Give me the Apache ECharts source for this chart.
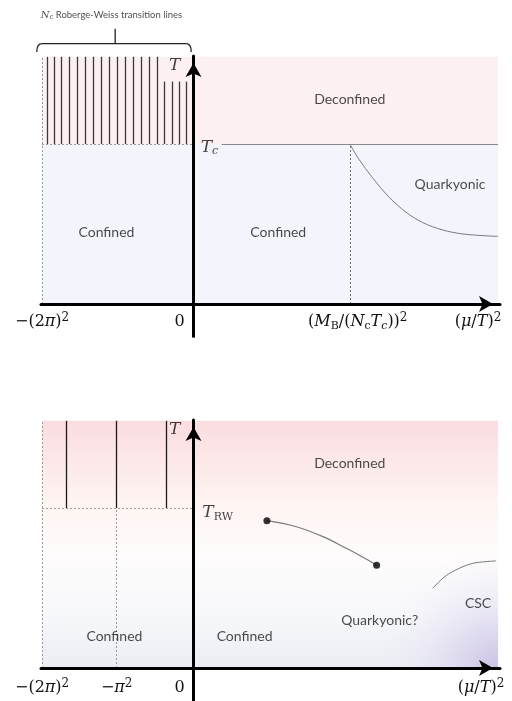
<!DOCTYPE html>
<html>
<head>
<meta charset="utf-8">
<script src="https://cdn.jsdelivr.net/npm/echarts@6/dist/echarts.min.js"></script>
<style>
  html, body { margin: 0; padding: 0; background: #fff; }
  #chart { width: 512px; height: 701px; }
</style>
</head>
<body>
<div id="chart"></div>
<script>
// Schematic QCD phase diagrams in the (mu/T)^2 - T plane.
// x: (mu/T)^2 in schematic units where -(2pi)^2 -> -4, -pi^2 -> -2 ; y: T in units of T_c (or T_RW)

// ---- axis ticks ----
const topTickValues = [-4, 0, 4.13, 8.1];
const topTickLabels = [
  '{n|−(2}{i|π}{n|)}{sup|2}',
  '{n|0}',
  '{n|(}{i|M}{sub|B}{n|/(}{i|N}{sub|c}{i|T}{subi|c}{n|))}{sup|2}',
  '{n|(}{i|μ}{n|/}{i|T}{n|)}{sup|2}'
];
const bottomTickValues = [-4, -2.03, 0, 8.1];
const bottomTickLabels = [
  '{n|−(2}{i|π}{n|)}{sup|2}',
  '{n|−}{i|π}{sup|2}',
  '{n|0}',
  '{n|(}{i|μ}{n|/}{i|T}{n|)}{sup|2}'
];

// ---- phase structure ----
const criticalT = 1;                 // T_c / T_RW
const xLeftEdge = -4;                // -(2pi)^2
const xRightEdge = 8.05;
const tTop = 1.545;
const tAxisFoot = -0.21;             // T axis runs a little below the (mu/T)^2 axis
const mbPoint = 4.13;                // (M_B/(N_c T_c))^2
const rwLinesTop = [-3.87, -3.68, -3.49, -3.28, -3.08, -2.87, -2.65, -2.44, -2.22, -2.01, -1.80, -1.60, -1.39, -1.17, -0.97];
const rwLinesTopShort = [-0.77, -0.56, -0.37, -0.18];
const rwShortTop = 1.39;
const rwLinesBottom = [-3.35, -2.03, -0.72];
const tcLineStart = 0.74;

const quarkyonicBoundary = [[4.13, 1.0], [4.37, 0.905], [4.73, 0.79], [5.16, 0.67], [5.61, 0.575], [6.05, 0.51], [6.58, 0.463], [7.11, 0.438], [7.81, 0.425], [8.05, 0.423]];
const criticalLine = [[1.94, 0.921], [2.72, 0.883], [3.42, 0.821], [4.04, 0.748], [4.48, 0.692], [4.84, 0.642]];
const cscBoundary = [[6.32, 0.498], [6.62, 0.567], [6.93, 0.6125], [7.38, 0.654], [7.99, 0.669]];

// ---- region names ----
const topRegionLabels = [['Deconfined', 4.13, 1.281], ['Confined', -2.30, 0.45], ['Confined', 2.24, 0.45], ['Quarkyonic', 6.78, 0.744]];
const bottomRegionLabels = [['Deconfined', 4.13, 1.279], ['Confined', -2.09, 0.196], ['Confined', 1.35, 0.196], ['Quarkyonic?', 4.92, 0.294], ['CSC', 7.52, 0.404]];
const topMathLabels = [['{ti|T}', -0.5, 1.4875], ['{ti|T}{subi|c}', 0.42, 0.98]];
const bottomMathLabels = [['{ti|T}', -0.5, 1.4875], ['{ti|T}{subr|RW}', 0.64, 0.969]];
const braceSpan = [-4.14, -0.06, -2.07];     // left, right, stem
const braceLevels = [1.575, 1.627, 1.721];   // tips, bar, stem top
const braceCaption = ['{ni|N}{subn|c}{cap| Roberge-Weiss transition lines}', -2.17, 1.806];

// ---- styles ----
const SERIF = 'DejaVu Serif';
const SANS = 'Lato';
const mathRich = {
  n:    { fontFamily: SERIF, fontSize: 16, color: '#111', lineHeight: 20 },
  i:    { fontFamily: SERIF, fontSize: 16, color: '#111', fontStyle: 'italic', lineHeight: 20 },
  ti:   { fontFamily: SERIF, fontSize: 17, color: '#111', fontStyle: 'italic', lineHeight: 20 },
  sup:  { fontFamily: SERIF, fontSize: 12, color: '#111', lineHeight: 12, padding: [0, 0, 8, 0] },
  sub:  { fontFamily: SERIF, fontSize: 11, color: '#111', lineHeight: 12, padding: [8, 0, 0, 0] },
  subi: { fontFamily: SERIF, fontSize: 11, color: '#111', fontStyle: 'italic', lineHeight: 12, padding: [8, 0, 0, 0] },
  subr: { fontFamily: SERIF, fontSize: 11, color: '#111', lineHeight: 12, padding: [8, 0, 0, 0] },
  ni:   { fontFamily: SERIF, fontSize: 10, color: '#222', fontStyle: 'italic', lineHeight: 12 },
  subn: { fontFamily: SERIF, fontSize: 7, color: '#222', lineHeight: 8, padding: [5, 0, 0, 0] },
  cap:  { fontFamily: SANS, fontSize: 9.5, color: '#222', lineHeight: 12 }
};
// horizontal nudges (px) of tick labels away from their tick
const topNudge = [0, -14, 8, -22];
const bottomNudge = [0, 0, -14, -19];
const rich = Object.assign({}, mathRich);
function nudged(label, dx) {
  if (!dx) return label;
  const w = Math.abs(dx) * 2;
  rich['sp' + w] = { width: w, fontSize: 1 };
  return dx > 0 ? '{sp' + w + '| }' + label : label + '{sp' + w + '| }';
}
const topLabelsRich = topTickLabels.map((l, i) => nudged(l, topNudge[i]));
const bottomLabelsRich = bottomTickLabels.map((l, i) => nudged(l, bottomNudge[i]));

function tickFormatter(values, labels) {
  return function (v) {
    let best = 0;
    values.forEach((t, i) => { if (Math.abs(t - v) < Math.abs(values[best] - v)) best = i; });
    return labels[best];
  };
}

const axisLineStyle = {
  onZero: true,
  symbol: ['none', 'arrow'],
  symbolSize: [12, 14],
  symbolOffset: [0, -7],
  lineStyle: { color: '#000', width: 3 }
};

const grids = [
  { left: 41, right: 12, top: 56, height: 248, outerBoundsMode: 'none', containLabel: false },
  { left: 41, right: 12, top: 420, height: 248, outerBoundsMode: 'none', containLabel: false }
];

const xAxes = [
  [topTickValues, topLabelsRich, 8],
  [bottomTickValues, bottomLabelsRich, 10]
].map(([vals, labs, margin], g) => ({
  type: 'value', gridIndex: g, min: -4.03, max: 8.1, z: 10,
  axisLine: axisLineStyle,
  axisTick: { show: false },
  splitLine: { show: false },
  axisLabel: {
    customValues: vals, formatter: tickFormatter(vals, labs),
    margin: margin, rich: rich, showMinLabel: true, showMaxLabel: true, hideOverlap: false
  }
}));
const yAxes = [0, 1].map(g => ({
  type: 'value', gridIndex: g, min: 0, max: 1.55, z: 10,
  axisLine: axisLineStyle,
  axisTick: { show: false },
  axisLabel: { show: false },
  splitLine: { show: false }
}));

// shaded phase regions
const topBands = [[xLeftEdge, xRightEdge, criticalT, tTop], [xLeftEdge, xRightEdge, 0, criticalT]];
const topBandFills = ['#fcf0f0', '#f2f5fb'];
const bottomBands = [[xLeftEdge, xRightEdge, 0, tTop], [5.0, xRightEdge, 0, 0.72]];
const bottomBandFills = [
  new echarts.graphic.LinearGradient(0, 0, 0, 1, [
    { offset: 0, color: '#fbdde1' },
    { offset: 0.35, color: '#fef5f3' },
    { offset: 0.55, color: '#fefcfc' },
    { offset: 0.78, color: '#f7f8fb' },
    { offset: 1, color: '#eaedf3' }
  ]),
  new echarts.graphic.RadialGradient(1, 1, 1.05, [
    { offset: 0, color: 'rgba(198,187,227,0.88)' },
    { offset: 0.45, color: 'rgba(216,208,237,0.48)' },
    { offset: 1, color: 'rgba(240,238,248,0)' }
  ])
];
function bandSeries(g, bands, fills) {
  return {
    type: 'custom', xAxisIndex: g, yAxisIndex: g, z: 1, silent: true, clip: false,
    data: bands, encode: { x: [0, 1], y: [2, 3] },
    renderItem: function (params, api) {
      const p0 = api.coord([api.value(0), api.value(3)]);
      const p1 = api.coord([api.value(1), api.value(2)]);
      return { type: 'rect', shape: { x: p0[0], y: p0[1], width: p1[0] - p0[0], height: p1[1] - p0[1] },
               style: { fill: fills[params.dataIndex] } };
    }
  };
}

function segments(g, segs, style, z) {
  return {
    type: 'lines', coordinateSystem: 'cartesian2d', xAxisIndex: g, yAxisIndex: g, z: z || 4, silent: true,
    polyline: false, clip: false,
    lineStyle: Object.assign({ opacity: 1, curveness: 0 }, style),
    data: segs.map(c => ({ coords: c }))
  };
}
const guideStyle = { color: '#9a9a9a', width: 1, type: [2, 2] };

function textSeries(g, items, labelOpt) {
  return {
    type: 'scatter', xAxisIndex: g, yAxisIndex: g, z: 6, silent: true, clip: false,
    symbolSize: 1, itemStyle: { color: 'rgba(0,0,0,0)' },
    data: items.map(d => [d[1], d[2], d[0]]),
    label: Object.assign({ show: true, position: 'inside', formatter: p => p.data[2] }, labelOpt)
  };
}
const regionLabelStyle = { fontFamily: SANS, fontSize: 14, color: '#1c1c1c' };

function curve(g, data, width) {
  return {
    type: 'line', xAxisIndex: g, yAxisIndex: g, z: 4, silent: true, smooth: 0.35, symbol: 'none',
    lineStyle: { color: '#7a7a7a', width: width }, data: data
  };
}

const series = [
  bandSeries(0, topBands, topBandFills),
  bandSeries(1, bottomBands, bottomBandFills),

  // T axis continues below the (mu/T)^2 axis
  segments(0, [[[0, 0], [0, tAxisFoot]]], { color: '#000', width: 3 }, 10),
  segments(1, [[[0, 0], [0, tAxisFoot]]], { color: '#000', width: 3 }, 10),

  // top panel guides and transition lines
  segments(0, [
    [[xLeftEdge, 0], [xLeftEdge, tTop]],
    [[xLeftEdge, criticalT], [0, criticalT]]
  ], guideStyle),
  segments(0, [[[mbPoint, 0], [mbPoint, criticalT]]], { color: '#6e6e6e', width: 1, type: [2, 2] }),
  segments(0, [[[tcLineStart, criticalT], [xRightEdge, criticalT]]], { color: '#8a8a8a', width: 1 }),
  segments(0, rwLinesTop.map(x => [[x, criticalT], [x, tTop]]).concat(
    rwLinesTopShort.map(x => [[x, criticalT], [x, rwShortTop]])), { color: '#3a3a3a', width: 1.3 }),
  curve(0, quarkyonicBoundary, 1),

  // bottom panel guides and transition lines
  segments(1, [
    [[xLeftEdge, 0], [xLeftEdge, tTop]],
    [[xLeftEdge, criticalT], [0, criticalT]],
    [[bottomTickValues[1], 0], [bottomTickValues[1], criticalT]]
  ], guideStyle),
  segments(1, rwLinesBottom.map(x => [[x, criticalT], [x, tTop]]), { color: '#1a1a1a', width: 1.3 }),
  curve(1, criticalLine, 1.2),
  {
    type: 'scatter', xAxisIndex: 1, yAxisIndex: 1, z: 5, silent: true, symbolSize: 7,
    itemStyle: { color: '#000' }, data: [criticalLine[0], criticalLine[criticalLine.length - 1]]
  },
  curve(1, cscBoundary, 1),

  // brace over the Roberge-Weiss lines
  {
    type: 'custom', xAxisIndex: 0, yAxisIndex: 0, z: 6, silent: true, clip: false,
    data: [braceSpan.concat(braceLevels)], encode: { x: [0, 1, 2], y: [3, 4, 5] },
    renderItem: function (params, api) {
      const L = api.coord([api.value(0), api.value(4)]);
      const R = api.coord([api.value(1), api.value(4)]);
      const tipY = api.coord([api.value(0), api.value(3)])[1];
      const M = api.coord([api.value(2), api.value(5)]);
      const r = 5;
      const st = { stroke: '#222', lineWidth: 1.3, fill: null };
      return { type: 'group', children: [
        { type: 'bezierCurve', shape: { x1: L[0], y1: tipY, x2: L[0] + r, y2: L[1], cpx1: L[0], cpy1: L[1] }, style: st },
        { type: 'line', shape: { x1: L[0] + r, y1: L[1], x2: R[0] - r, y2: R[1] }, style: st },
        { type: 'bezierCurve', shape: { x1: R[0] - r, y1: R[1], x2: R[0], y2: tipY, cpx1: R[0], cpy1: R[1] }, style: st },
        { type: 'line', shape: { x1: M[0], y1: L[1], x2: M[0], y2: M[1] }, style: st }
      ] };
    }
  },

  textSeries(0, topRegionLabels, regionLabelStyle),
  textSeries(1, bottomRegionLabels, regionLabelStyle),
  textSeries(0, topMathLabels, { rich: mathRich }),
  textSeries(1, bottomMathLabels, { rich: mathRich }),
  textSeries(0, [braceCaption], { rich: mathRich })
];

const chart = echarts.init(document.getElementById('chart'));
chart.setOption({
  animation: false,
  backgroundColor: '#fff',
  grid: grids,
  xAxis: xAxes,
  yAxis: yAxes,
  series: series
});
</script>
</body>
</html>
